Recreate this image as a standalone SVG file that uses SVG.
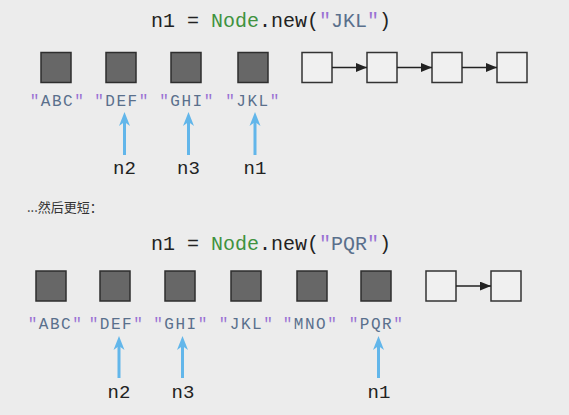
<svg xmlns="http://www.w3.org/2000/svg" width="569" height="415" viewBox="0 0 569 415">
<defs>
<style>
.bg{fill:#ececec}
.full{fill:#676767;stroke:#2e2e2e;stroke-width:1.5}
.empty{fill:#f0f0f0;stroke:#333;stroke-width:1.5}
.code{font-family:"Liberation Mono","DejaVu Sans Mono",monospace;font-size:20px;fill:#222}
.lbl{font-family:"Liberation Mono","DejaVu Sans Mono",monospace;font-size:16px;letter-spacing:1.5px;fill:#5a708c;text-anchor:middle}
.q{fill:#9a72d4}
.grn{fill:#3f923f}
.str{fill:#5a708c}
.var{font-family:"Liberation Mono","DejaVu Sans Mono",monospace;font-size:19px;fill:#222;text-anchor:middle}
.link{stroke:#222;stroke-width:1.5;fill:none}
.ptr{stroke:#62b6ea;stroke-width:3;fill:none}
.ptrhead{fill:#62b6ea}
.note{font-family:"Noto Sans CJK SC","Noto Sans",sans-serif;font-size:13px;fill:#333}
</style>
<marker id="ah" viewBox="0 0 10 8" refX="10" refY="4" markerWidth="11" markerHeight="9" markerUnits="userSpaceOnUse" orient="auto">
<path d="M0,0 L10,4 L0,8 Z" fill="#222"/>
</marker>
</defs>
<rect class="bg" x="0" y="0" width="569" height="415"/>

<text id="title1" class="code" x="151" y="27">n1 = <tspan class="grn">Node</tspan>.new(<tspan class="q">"</tspan><tspan class="str">JKL</tspan><tspan class="q">"</tspan>)</text>

<g id="a1"><rect class="full" x="41" y="52.5" width="30" height="30"/><text class="lbl" x="57.5" y="106"><tspan class="q">"</tspan>ABC<tspan class="q">"</tspan></text></g>
<g id="b1"><rect class="full" x="106" y="52.5" width="30" height="30"/><text class="lbl" x="122" y="106"><tspan class="q">"</tspan>DEF<tspan class="q">"</tspan></text></g>
<g id="c1"><rect class="full" x="171" y="52.5" width="30" height="30"/><text class="lbl" x="187" y="106"><tspan class="q">"</tspan>GHI<tspan class="q">"</tspan></text></g>
<g id="d1"><rect class="full" x="238" y="52.5" width="30" height="30"/><text class="lbl" x="253" y="106"><tspan class="q">"</tspan>JKL<tspan class="q">"</tspan></text></g>
<g id="e1"><rect class="empty" x="302" y="52.5" width="30" height="30"/></g>
<g id="f1"><rect class="empty" x="367" y="52.5" width="30" height="30"/></g>
<g id="g1"><rect class="empty" x="432" y="52.5" width="30" height="30"/></g>
<g id="h1"><rect class="empty" x="497" y="52.5" width="30" height="30"/></g>
<g id="n2a"><text class="var" x="124.5" y="174">n2</text></g>
<g id="n3a"><text class="var" x="188.5" y="174">n3</text></g>
<g id="n1a"><text class="var" x="255" y="174">n1</text></g>

<text id="note" class="note" x="27" y="212">...然后更短：</text>

<text id="title2" class="code" x="151" y="250">n1 = <tspan class="grn">Node</tspan>.new(<tspan class="q">"</tspan><tspan class="str">PQR</tspan><tspan class="q">"</tspan>)</text>

<g id="a2"><rect class="full" x="36" y="271" width="30" height="30"/><text class="lbl" x="55.5" y="329"><tspan class="q">"</tspan>ABC<tspan class="q">"</tspan></text></g>
<g id="b2"><rect class="full" x="100" y="271" width="30" height="30"/><text class="lbl" x="116.5" y="329"><tspan class="q">"</tspan>DEF<tspan class="q">"</tspan></text></g>
<g id="c2"><rect class="full" x="165" y="271" width="30" height="30"/><text class="lbl" x="181" y="329"><tspan class="q">"</tspan>GHI<tspan class="q">"</tspan></text></g>
<g id="d2"><rect class="full" x="231" y="271" width="30" height="30"/><text class="lbl" x="246.5" y="329"><tspan class="q">"</tspan>JKL<tspan class="q">"</tspan></text></g>
<g id="e2"><rect class="full" x="297" y="271" width="30" height="30"/><text class="lbl" x="310.5" y="329"><tspan class="q">"</tspan>MNO<tspan class="q">"</tspan></text></g>
<g id="f2"><rect class="full" x="361" y="271" width="30" height="30"/><text class="lbl" x="376.5" y="329"><tspan class="q">"</tspan>PQR<tspan class="q">"</tspan></text></g>
<g id="g2"><rect class="empty" x="426" y="271" width="30" height="30"/></g>
<g id="h2"><rect class="empty" x="491" y="271" width="30" height="30"/></g>
<g id="n2b"><text class="var" x="119" y="398">n2</text></g>
<g id="n3b"><text class="var" x="183" y="398">n3</text></g>
<g id="n1b"><text class="var" x="379" y="398">n1</text></g>

<g id="connectors">
<line class="link" x1="332" y1="67.5" x2="367" y2="67.5" marker-end="url(#ah)"/>
<line class="link" x1="397" y1="67.5" x2="432" y2="67.5" marker-end="url(#ah)"/>
<line class="link" x1="462" y1="67.5" x2="497" y2="67.5" marker-end="url(#ah)"/>
<line class="link" x1="456" y1="286" x2="491" y2="286" marker-end="url(#ah)"/>

<line class="ptr" x1="124.5" y1="155" x2="124.5" y2="120"/>
<path class="ptrhead" d="M124.5,112 L130,126 L124.5,122 L119,126 Z"/>
<line class="ptr" x1="188.5" y1="155" x2="188.5" y2="120"/>
<path class="ptrhead" d="M188.5,112 L194,126 L188.5,122 L183,126 Z"/>
<line class="ptr" x1="255" y1="155" x2="255" y2="120"/>
<path class="ptrhead" d="M255,112 L260.5,126 L255,122 L249.5,126 Z"/>

<line class="ptr" x1="119" y1="378" x2="119" y2="344"/>
<path class="ptrhead" d="M119,336 L124.5,350 L119,346 L113.5,350 Z"/>
<line class="ptr" x1="182.5" y1="378" x2="182.5" y2="344"/>
<path class="ptrhead" d="M182.5,336 L188,350 L182.5,346 L177,350 Z"/>
<line class="ptr" x1="378.5" y1="378" x2="378.5" y2="344"/>
<path class="ptrhead" d="M378.5,336 L384,350 L378.5,346 L373,350 Z"/>
</g>
</svg>
